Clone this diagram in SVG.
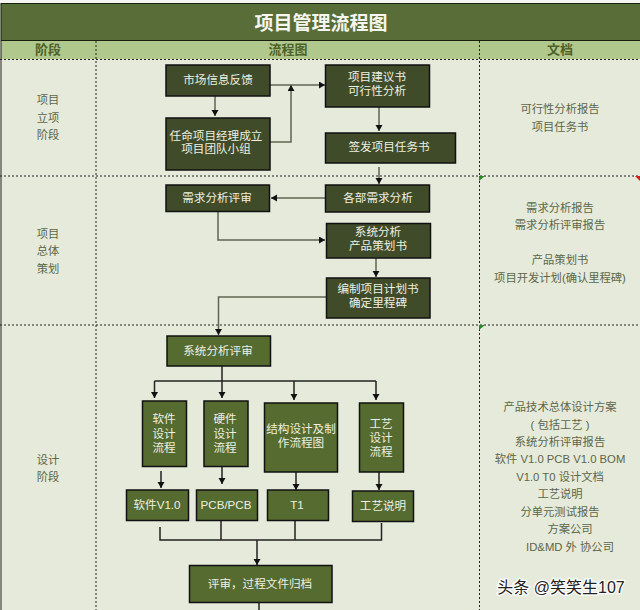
<svg xmlns="http://www.w3.org/2000/svg" width="640" height="610" viewBox="0 0 640 610">
<style>
text{font-family:"Liberation Sans","Noto Sans CJK SC",sans-serif;text-anchor:middle}
.d rect{fill:#404c29;stroke:#111;stroke-width:1.5}
.g rect{fill:#556b30;stroke:#111;stroke-width:1.5}
.d text,.g text{fill:#eef0e2;font-size:11.600px}
.lab text{fill:#5b6748;font-size:11.300px}
.h{fill:#4f6228;font-size:13px;font-weight:bold}
.dot{stroke:#222;stroke-width:1;stroke-dasharray:2 2;fill:none}
.c path{fill:none;stroke:#5f6552;stroke-width:1.5}
.k path{fill:none;stroke:#222;stroke-width:1.5}
</style>
<defs>
<marker id="a" markerUnits="userSpaceOnUse" markerWidth="8" markerHeight="8" refX="6" refY="3.5" orient="auto"><path d="M0 0L6 3.5L0 7Z" fill="#111"/></marker>
</defs>
<rect width="640" height="610" fill="#e6eadb"/>
<rect width="640" height="3" fill="#f4f4f2"/>
<g id="title">
<rect x="1" y="3.5" width="640" height="37" fill="#586d38" stroke="#1a2010"/>
<text x="321" y="29.500" font-size="19" font-weight="bold" fill="#f6f6ee">项目管理流程图</text>
</g>
<g id="header">
<rect x="1" y="41" width="640" height="18" fill="#b0c88c"/>
<text class="h" x="48" y="54">阶段</text>
<text class="h" x="288" y="54">流程图</text>
<text class="h" x="560" y="54">文档</text>
</g>
<g id="grid">
<path class="dot" d="M0 59.500H640M0 176H640M0 325H640M96 41V610M479.500 41V610"/>
<path d="M1 41V610" stroke="#222" fill="none"/>
<path d="M479 176h6l-6 5Z" fill="#2c8a2c"/>
<path d="M479 325h6l-6 5Z" fill="#2c8a2c"/>
<path d="M635 176h5v5Z" fill="#d02020"/>
</g>
<g id="stages" class="lab">
<text x="48" y="104">项目</text><text x="48" y="122">立项</text><text x="48" y="139">阶段</text>
<text x="48" y="238">项目</text><text x="48" y="255">总体</text><text x="48" y="273">策划</text>
<text x="48" y="464">设计</text><text x="48" y="481">阶段</text>
</g>
<g id="docs" class="lab">
<text x="560" y="113">可行性分析报告</text><text x="560" y="131">项目任务书</text>
<text x="560" y="212">需求分析报告</text><text x="560" y="229">需求分析评审报告</text>
<text x="560" y="264">产品策划书</text><text x="560" y="282">项目开发计划(确认里程碑)</text>
<text x="560" y="411">产品技术总体设计方案</text><text x="560" y="429">( 包括工艺 )</text><text x="560" y="446">系统分析评审报告</text><text x="560" y="463">软件 V1.0 PCB V1.0 BOM</text><text x="560" y="481">V1.0 T0 设计文档</text><text x="560" y="498">工艺说明</text><text x="560" y="516">分单元测试报告</text><text x="570" y="533">方案公司</text><text x="570" y="551">ID&amp;MD 外 协公司</text>
</g>
<g id="connectors">
<g class="c">
<path marker-end="url(#a)" d="M270 85H325"/>
<path marker-end="url(#a)" d="M270 142H291V85"/>
<path marker-end="url(#a)" d="M215 96V116"/>
<path marker-end="url(#a)" d="M379 107V131"/>
<path marker-end="url(#a)" d="M379 167V184"/>
<path marker-end="url(#a)" d="M325 198H271"/>
<path marker-end="url(#a)" d="M218 212V240H325"/>
<path marker-end="url(#a)" d="M376 258V277"/>
<path marker-end="url(#a)" d="M326 297H218.500V335"/>
</g>
<g class="k">
<path d="M154.500 381H376"/>
<path marker-end="url(#a)" d="M222 366V398"/>
<path marker-end="url(#a)" d="M154.500 381V398"/>
<path marker-end="url(#a)" d="M294 381V400"/>
<path marker-end="url(#a)" d="M376 381V400"/>
<path marker-end="url(#a)" d="M161 471V488"/>
<path marker-end="url(#a)" d="M222 466V484"/>
<path marker-end="url(#a)" d="M296 472V490"/>
<path marker-end="url(#a)" d="M379 472V490"/>
<path d="M160 527V540H381.500V523M221 520V540M295 520V540"/>
<path marker-end="url(#a)" d="M257 540V565"/>
<path d="M259 602V610"/>
</g>
</g>
<g class="d">
<g id="n1"><rect x="166" y="65" width="104" height="31"/><text x="218" y="84">市场信息反馈</text></g>
<g id="n2"><rect x="166" y="118" width="104" height="52"/><text x="216" y="140">任命项目经理成立</text><text x="216" y="153">项目团队小组</text></g>
<g id="n3"><rect x="325.500" y="65" width="104" height="42"/><text x="377" y="81">项目建议书</text><text x="377" y="95">可行性分析</text></g>
<g id="n4"><rect x="325.500" y="133" width="130" height="30"/><text x="389" y="151">签发项目任务书</text></g>
<g id="n5"><rect x="166" y="185" width="103.500" height="26.500"/><text x="217" y="202">需求分析评审</text></g>
<g id="n6"><rect x="325.500" y="185" width="104" height="27"/><text x="378" y="202">各部需求分析</text></g>
<g id="n7"><rect x="326.500" y="223.500" width="104" height="34.500"/><text x="378" y="236">系统分析</text><text x="378" y="250">产品策划书</text></g>
<g id="n8"><rect x="326.500" y="278" width="103.500" height="40"/><text x="378" y="293">编制项目计划书</text><text x="378" y="307">确定里程碑</text></g>
</g>
<g class="g">
<g id="n9"><rect x="167" y="336" width="103.500" height="30"/><text x="218" y="355">系统分析评审</text></g>
<g id="n10"><rect x="142.500" y="401" width="44" height="65.500"/><text x="164" y="423">软件</text><text x="164" y="438">设计</text><text x="164" y="452">流程</text></g>
<g id="n11"><rect x="204" y="401" width="44" height="65.500"/><text x="225" y="423">硬件</text><text x="225" y="438">设计</text><text x="225" y="452">流程</text></g>
<g id="n12"><rect x="264.500" y="403" width="73" height="69"/><text x="301" y="433">结构设计及制</text><text x="301" y="447">作流程图</text></g>
<g id="n13"><rect x="359.500" y="403" width="44" height="69"/><text x="381" y="428">工艺</text><text x="381" y="442">设计</text><text x="381" y="456">流程</text></g>
<g id="n14"><rect x="126.500" y="490" width="62" height="30.500"/><text x="157" y="509">软件V1.0</text></g>
<g id="n15"><rect x="196.500" y="490" width="61" height="30.500"/><text x="226" y="509">PCB/PCB</text></g>
<g id="n16"><rect x="267.500" y="490" width="61" height="30.500"/><text x="297" y="509">T1</text></g>
<g id="n17"><rect x="352.500" y="491" width="61" height="30.500"/><text x="383" y="510">工艺说明</text></g>
<g id="n18"><rect x="189.500" y="565.500" width="142.500" height="37"/><text x="260" y="588">评审，过程文件归档</text></g>
</g>
<text x="561" y="593" font-size="16" fill="#222" stroke="#fff" stroke-width="2.500" paint-order="stroke">头条 @笑笑生107</text>
</svg>
